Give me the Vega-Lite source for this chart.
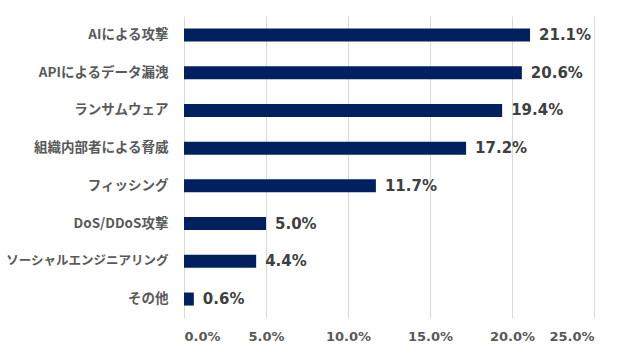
{
  "$schema": "https://vega.github.io/schema/vega-lite/v6.json",
  "width": 410,
  "height": 302,
  "autosize": {"type": "none"},
  "padding": {"left": 184, "top": 16, "right": 40, "bottom": 36},
  "background": "white",
  "data": {"values": [
    {"category": "AIによる攻撃", "value": 0.211},
    {"category": "APIによるデータ漏洩", "value": 0.206},
    {"category": "ランサムウェア", "value": 0.194},
    {"category": "組織内部者による脅威", "value": 0.172},
    {"category": "フィッシング", "value": 0.117},
    {"category": "DoS/DDoS攻撃", "value": 0.050},
    {"category": "ソーシャルエンジニアリング", "value": 0.044},
    {"category": "その他", "value": 0.006}
  ]},
  "config": {
    "view": {"stroke": null},
    "axis": {"labelColor": "#595959", "labelFontWeight": "bold"}
  },
  "encoding": {
    "y": {
      "field": "category", "type": "nominal", "sort": null,
      "scale": {"paddingInner": 0.655, "paddingOuter": 0.33},
      "axis": {"title": null, "domain": false, "ticks": false, "grid": false,
        "labelPadding": 16, "labelFont": "Noto Sans CJK JP",
        "labelFontSize": {"condition": {"test": "datum.value == 'ソーシャルエンジニアリング'", "value": 12.5}, "value": 13.5}}
    },
    "x": {
      "field": "value", "type": "quantitative",
      "scale": {"domain": [0, 0.25], "nice": false},
      "axis": {"title": null, "format": ".1%", "values": [0, 0.05, 0.1, 0.15, 0.2, 0.25],
        "domain": false, "ticks": false, "grid": true, "gridColor": "#d9d9d9", "gridWidth": 1,
        "labelPadding": 12, "labelFont": "DejaVu Sans", "labelFontSize": 13}
    }
  },
  "layer": [
    {"mark": {"type": "bar", "color": "#002060"}},
    {"mark": {"type": "text", "align": "left", "baseline": "middle", "dx": 9,
      "font": "DejaVu Sans", "fontWeight": "bold", "fontSize": 15, "color": "#404040"},
     "encoding": {"text": {"field": "value", "type": "quantitative", "format": ".1%"}}}
  ]
}
